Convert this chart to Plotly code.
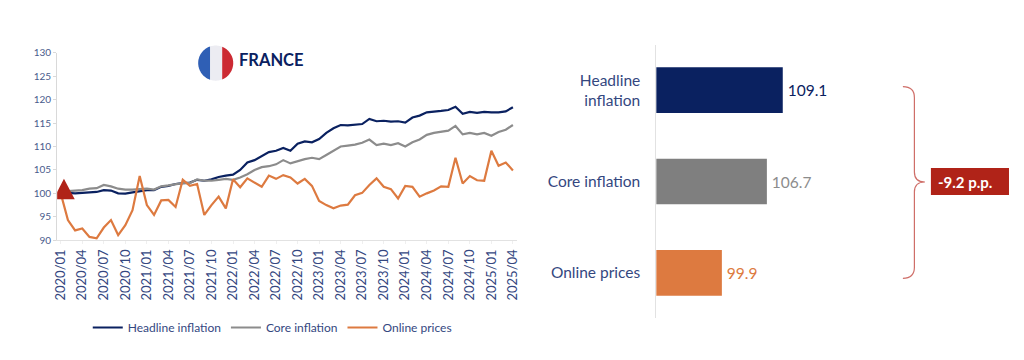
import numpy as np
import plotly.graph_objects as go

W, H = 1024, 360
MX, MY = 5.0, 6.6   # room the legend takes around the plotting area
FONT = "Lato"
NAVY = "#0A2160"
GREY = "#7F7F7F"
ORANGE = "#DD7A40"
RED = "#B02318"
TEXT = "#34477F"

months = [f"{y}/{m:02d}" for y in range(2020, 2026) for m in range(1, 13)][:64]
tick_months = months[::3]

headline = [100, 100.1, 100.0, 100.1, 100.2, 100.3, 100.7, 100.6, 100.0, 99.95, 100.2, 100.5, 100.7,
            100.7, 101.4, 101.6, 102.0, 102.2, 102.3, 102.9, 102.7, 103.0, 103.5, 103.8, 104.0,
            105.0, 106.6, 107.1, 107.9, 108.8, 109.1, 109.7, 109.1, 110.6, 111.1, 110.9, 111.6,
            112.9, 113.9, 114.6, 114.5, 114.6, 114.8, 115.9, 115.4, 115.5, 115.3, 115.4, 115.1,
            116.2, 116.6, 117.3, 117.4, 117.6, 117.8, 118.5, 117.0, 117.4, 117.2, 117.4, 117.3,
            117.3, 117.5, 118.4]
core = [100, 100.5, 100.6, 100.7, 101.0, 101.1, 101.8, 101.5, 101.0, 100.8, 100.8, 100.9, 101.0,
        100.8, 101.5, 101.7, 102.0, 102.2, 102.2, 103.0, 102.7, 102.7, 102.9, 103.1, 102.9,
        103.4, 104.1, 105.0, 105.6, 105.8, 106.2, 107.1, 106.4, 106.9, 107.3, 107.6, 107.3,
        108.2, 109.1, 110.0, 110.2, 110.4, 110.8, 111.5, 110.3, 110.6, 110.3, 110.7, 110.0,
        110.9, 111.5, 112.5, 112.9, 113.2, 113.4, 114.4, 112.6, 112.9, 112.6, 112.9, 112.3,
        113.1, 113.6, 114.6]
online = [100, 94.3, 92.1, 92.5, 90.7, 90.4, 92.7, 94.3, 91.1, 93.2, 96.4, 103.7, 97.5,
          95.4, 98.5, 98.6, 97.1, 102.9, 101.6, 102.0, 95.4, 97.5, 99.3, 96.8, 103.0,
          101.3, 103.2, 102.3, 101.4, 103.8, 103.1, 103.9, 103.4, 102.1, 103.1, 101.6, 98.4,
          97.5, 96.8, 97.4, 97.6, 99.6, 100.1, 101.8, 103.2, 101.4, 100.9, 98.9, 101.6,
          101.4, 99.3, 100.0, 100.6, 101.5, 101.4, 107.6, 102.1, 103.7, 102.8, 102.7, 109.1,
          105.9, 106.6, 104.9]

bar_names = ["Headline<br>inflation", "Core inflation", "Online prices"]
bar_values = [109.1, 106.7, 99.9]
bar_colors = [NAVY, GREY, ORANGE]
bar_label_colors = [NAVY, "#8C8C8C", ORANGE]
bar_labels = ["\u2009109.1", "\u2009106.7", "\u200999.9"]


def px(x):
    return (x - MX) / (W - 2 * MX)


def py(y):
    return 1 - (y - MY) / (H - 2 * MY)


fig = go.Figure()
for name, vals, col in [("Headline inflation", headline, NAVY),
                        ("Core inflation", core, "#8C8C8C"),
                        ("Online prices", online, ORANGE)]:
    fig.add_trace(go.Scatter(x=months, y=vals, name=name, mode="lines",
                             line=dict(color=col, width=2.2), xaxis="x", yaxis="y"))

fig.add_trace(go.Bar(x=bar_values, y=bar_names, orientation="h", width=0.5,
                     marker=dict(color=bar_colors, line=dict(width=0)),
                     text=bar_labels, textposition="outside", cliponaxis=False,
                     textfont=dict(color=bar_label_colors, size=15.5, family=FONT),
                     showlegend=False, xaxis="x2", yaxis="y2", hoverinfo="skip"))


def flag_piece(x0, x1, color, cx=215.5, cy=63.5, r=17.5):
    """Vertical slice of a circle, in page pixels."""
    t0 = np.arccos(np.clip((x0 - cx) / r, -1, 1))
    t1 = np.arccos(np.clip((x1 - cx) / r, -1, 1))
    top = np.linspace(t0, t1, 24)
    bot = top[::-1]
    xs = list(cx + r * np.cos(top)) + list(cx + r * np.cos(bot))
    ys = list(cy - r * np.sin(top)) + list(cy + r * np.sin(bot))
    d = "M" + " L".join(f"{px(a):.5f},{py(b):.5f}" for a, b in zip(xs, ys)) + " Z"
    return dict(type="path", xref="paper", yref="paper", path=d,
                fillcolor=color, line=dict(width=0), layer="above")


shapes = [flag_piece(198, 210, "#2F5FB5"), flag_piece(210, 222, "#ECECF2"), flag_piece(222, 233, "#CC2A33")]

# first-month marker, anchored on the data
shapes.append(dict(type="path", xref="x", yref="y", xsizemode="pixel", ysizemode="pixel",
                   xanchor=months[0], yanchor=100,
                   path="M -7.5 -6 L 14 -6 L 3.2 14.5 Z",
                   fillcolor=RED, line=dict(width=0), layer="above"))

# brace
bx, tip = 913.5, 924
brace = [(902, 87), (bx, 87), (bx, 98), (bx, 172), (bx, 182), (tip, 182),
         (bx, 182), (bx, 192), (bx, 267), (bx, 278), (902, 278)]
bp = [f"{px(a):.5f},{py(b):.5f}" for a, b in brace]
shapes.append(dict(type="path", xref="paper", yref="paper",
                   path=f"M{bp[0]} Q{bp[1]} {bp[2]} L{bp[3]} Q{bp[4]} {bp[5]} Q{bp[6]} {bp[7]} L{bp[8]} Q{bp[9]} {bp[10]}",
                   line=dict(color="#CF6E68", width=1.2), fillcolor="rgba(0,0,0,0)"))
# label box
shapes.append(dict(type="rect", xref="paper", yref="paper", x0=px(930), x1=px(1008), y0=py(195), y1=py(168),
                   fillcolor=RED, line=dict(width=0)))

annotations = [
    dict(text="<b>FRANCE</b>", xref="paper", yref="paper", x=px(237), y=py(60), xanchor="left", yanchor="middle",
         showarrow=False, font=dict(family=FONT, size=16.5, color=NAVY)),
    dict(text="<b>-9.2 p.p.</b>", xref="paper", yref="paper", x=px(935), y=py(182), xanchor="left", yanchor="middle",
         showarrow=False, font=dict(family=FONT, size=15, color="white")),
]

BAR_L, BAR_R = 655.7, 900
bar_scale = 126.3 / 19.1

fig.update_layout(
    width=W, height=H, autosize=False,
    margin=dict(l=0, r=0, t=0, b=0, pad=0),
    paper_bgcolor="white", plot_bgcolor="white",
    font=dict(family=FONT, color=TEXT),
    shapes=shapes, annotations=annotations,
    legend=dict(orientation="h", x=px(272), y=py(327),
                xanchor="center", yanchor="middle",
                font=dict(size=12, family=FONT, color=TEXT), itemwidth=30,
                bgcolor="rgba(0,0,0,0)", tracegroupgap=0),
    xaxis=dict(domain=[px(57.1), px(516)], type="category", categoryorder="array", categoryarray=months,
               range=[-0.5, 63.5], tickmode="array", tickvals=tick_months, ticktext=tick_months,
               tickangle=-90, tickfont=dict(size=13, family=FONT, color=TEXT),
               showgrid=False, zeroline=False, showline=True, linecolor="#E2E2E2", linewidth=1,
               ticks="outside", ticklen=3, tickcolor="#EFEFEF", anchor="y", fixedrange=True),
    yaxis=dict(domain=[py(240), py(53.3)], range=[90, 130], tickmode="array",
               tickvals=list(range(90, 131, 5)), tickfont=dict(size=10, family=FONT, color="#4A5B8C"),
               showgrid=False, zeroline=False, showline=True, linecolor="#D9D9D9", linewidth=1,
               ticks="outside", ticklen=3, tickcolor="#D9D9D9", anchor="x", fixedrange=True),
    xaxis2=dict(domain=[px(BAR_L), px(BAR_R)], range=[90, 90 + (BAR_R - BAR_L) / bar_scale], visible=False,
                anchor="y2", fixedrange=True),
    yaxis2=dict(domain=[py(318), py(45)], type="category", categoryorder="array", categoryarray=bar_names,
                autorange=False, range=[2.5, -0.5], tickfont=dict(size=15.5, family=FONT, color=TEXT),
                showgrid=False, zeroline=False, showline=True, linecolor="#E2E2E2", linewidth=1,
                ticks="", ticklabelstandoff=12, anchor="x2", fixedrange=True),
)

fig.write_html("out.html", post_script="document.body.style.margin='0';",
               config={"displayModeBar": False})
